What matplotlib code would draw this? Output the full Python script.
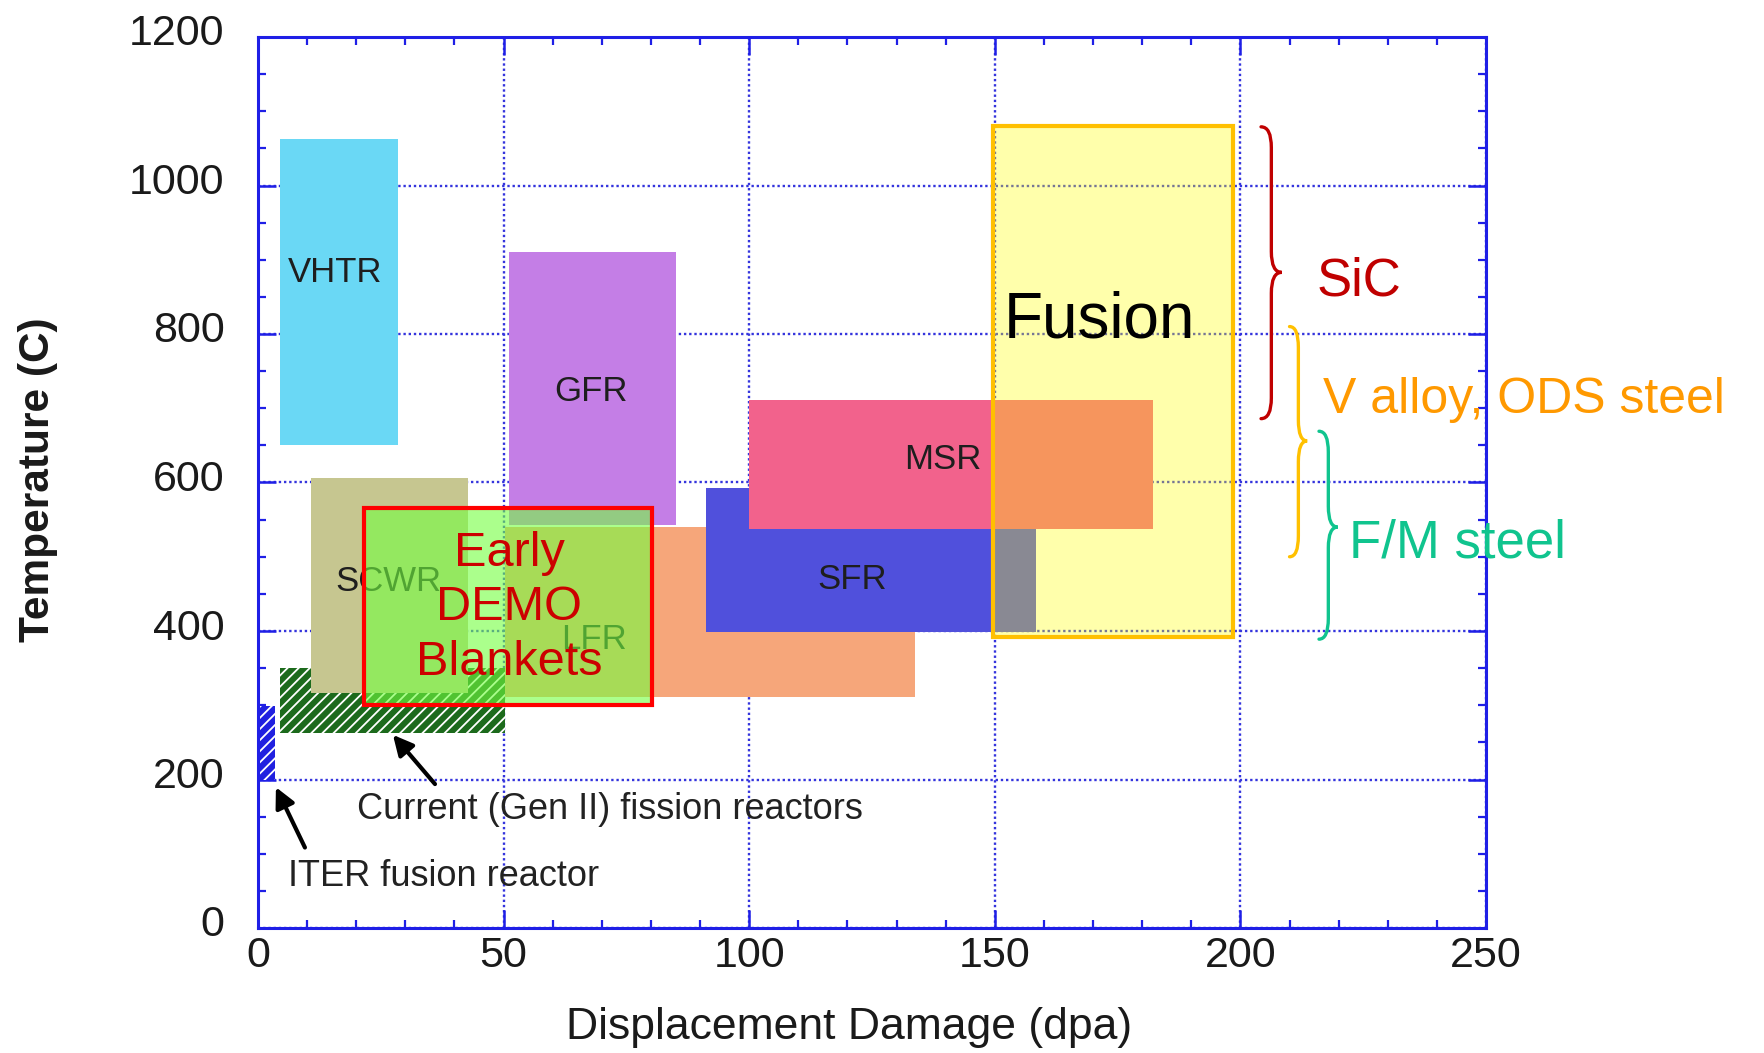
import matplotlib
matplotlib.use("Agg")
import matplotlib.pyplot as plt
from matplotlib.path import Path
from matplotlib.patches import PathPatch
from matplotlib.ticker import MultipleLocator
from matplotlib.transforms import ScaledTranslation
import numpy as np

plt.rcParams['font.family'] = ['Liberation Sans', 'DejaVu Sans']
plt.rcParams['hatch.linewidth'] = 1.3

# ---------------- data ----------------
reactors = ['VHTR', 'GFR', 'SCWR', 'LFR', 'SFR', 'MSR']
dpa_lo = [4.5, 51.0, 10.7, 50.3, 91.2, 100.0]
dpa_hi = [28.5, 85.0, 42.8, 133.8, 158.4, 182.3]
temp_lo = [650, 543, 316, 311, 398, 538]
temp_hi = [1062, 911, 606, 540, 593, 711]
reactor_colors = ['#6AD8F5', '#C47EE6', '#C6C690', '#F6A67A', '#5050DC', '#F2628C']
label_x = [15.7, 67.8, 26.5, 68.5, 121.0, 139.5]
label_y = [883, 723, 467, 389, 470, 631]

# current Gen II fission reactors and ITER (hatched)
genii_dpa = [4.5, 50.3]
genii_temp = [262, 350]
iter_dpa = [0.4, 3.4]
iter_temp = [200, 299]

# Fusion window
fusion_dpa = [149.6, 198.5]
fusion_temp = [392, 1080]
fusion_label_xy = [171.4, 818]

# Early DEMO blankets window
demo_dpa = [21.6, 80.2]
demo_temp = [300, 566]
demo_label_xy = [51.1, 431]

# material braces (right side, outside the axes)
materials = ['SiC', 'V alloy, ODS steel', 'F/M steel']
mat_colors = ['#C00000', '#FF9900', '#10C48E']
brace_colors = ['#C00000', '#FFC000', '#10C48E']
brace_x0 = [204.2, 210.0, 216.0]
brace_x1 = [208.4, 213.6, 219.8]
brace_top = [1079, 810, 669]
brace_bot = [686, 500, 389]
brace_tip = [883, 656, 540]
mat_text_x = [215.6, 216.8, 222.1]
mat_text_y = [871, 711, 518]
mat_font = [38, 36, 38]

x_ticks = [0, 50, 100, 150, 200, 250]
y_ticks = [0, 200, 400, 600, 800, 1000, 1200]

# ---------------- figure ----------------
W, H = 1765, 1053
fig = plt.figure(figsize=(W / 100, H / 100), dpi=100)
ax = fig.add_axes([258 / W, 1 - 928 / H, 1228 / W, 891 / H])
ax.set_xlim(0, 250)
ax.set_ylim(0, 1200)

blue = '#1F1FE6'
ax.set_axisbelow(True)
ax.grid(True, which='major', color='#3434DD', linestyle=(0, (1.0, 1.2)), linewidth=1.7)

# hatched Gen II and ITER
ax.bar(genii_dpa[0], genii_temp[1] - genii_temp[0], width=genii_dpa[1] - genii_dpa[0],
       bottom=genii_temp[0], align='edge', facecolor='#1C6A1C', edgecolor='white',
       hatch='///', linewidth=0, zorder=1)
ax.bar(iter_dpa[0], iter_temp[1] - iter_temp[0], width=iter_dpa[1] - iter_dpa[0],
       bottom=iter_temp[0], align='edge', facecolor='#2020E0', edgecolor='white',
       hatch='///', linewidth=0, zorder=1)

# reactor boxes
order = ['VHTR', 'GFR', 'LFR', 'SCWR', 'SFR', 'MSR']
for k, name in enumerate(order):
    i = reactors.index(name)
    ax.bar(dpa_lo[i], temp_hi[i] - temp_lo[i], width=dpa_hi[i] - dpa_lo[i],
           bottom=temp_lo[i], align='edge', color=reactor_colors[i],
           linewidth=0, zorder=2 + k * 0.1)
for i, name in enumerate(reactors):
    ax.text(label_x[i], label_y[i], name, ha='center', va='center',
            fontsize=25, color='#1E1E1E', zorder=3)

# Fusion window (translucent yellow)
ax.bar(fusion_dpa[0], fusion_temp[1] - fusion_temp[0], width=fusion_dpa[1] - fusion_dpa[0],
       bottom=fusion_temp[0], align='edge', facecolor=(1.0, 1.0, 0.0, 0.33),
       edgecolor='#FFC000', linewidth=3.0, zorder=4)
ax.text(fusion_label_xy[0], fusion_label_xy[1], 'Fusion', ha='center', va='center',
        fontsize=46, color='black', zorder=5)

# Early DEMO window
ax.bar(demo_dpa[0], demo_temp[1] - demo_temp[0], width=demo_dpa[1] - demo_dpa[0],
       bottom=demo_temp[0], align='edge', facecolor=(0.45, 1.0, 0.25, 0.6),
       edgecolor='#FF0000', linewidth=3.0, zorder=6)
ax.text(demo_label_xy[0], demo_label_xy[1], 'Early\nDEMO\nBlankets', ha='center',
        va='center', fontsize=35, color='#CC0000', linespacing=1.28, zorder=7)

# annotations with arrows
ax.annotate('', xy=(27.1, 263), xytext=(36.4, 191),
            arrowprops=dict(arrowstyle='-|>', color='black', lw=3.0, mutation_scale=30),
            zorder=8)
ax.text(20.2, 160, 'Current (Gen II) fission reactors', ha='left', va='center',
        fontsize=26, color='#222222', zorder=8)
ax.annotate('', xy=(3.4, 193), xytext=(9.8, 105),
            arrowprops=dict(arrowstyle='-|>', color='black', lw=3.0, mutation_scale=30),
            zorder=8)
ax.text(6.1, 70, 'ITER fusion reactor', ha='left', va='center',
        fontsize=26, color='#222222', zorder=8)

# braces and material labels
def brace(x0, x1, ytop, ybot, ytip, color):
    xm = (x0 + x1) / 2
    r = 28
    verts = [(x0, ytop), (xm, ytop), (xm, ytop - r),
             (xm, ytip + r),
             (xm, ytip), (x1, ytip),
             (xm, ytip), (xm, ytip - r),
             (xm, ybot + r),
             (xm, ybot), (x0, ybot)]
    codes = [Path.MOVETO, Path.CURVE3, Path.CURVE3,
             Path.LINETO,
             Path.CURVE3, Path.CURVE3,
             Path.CURVE3, Path.CURVE3,
             Path.LINETO,
             Path.CURVE3, Path.CURVE3]
    p = PathPatch(Path(verts, codes), facecolor='none', edgecolor=color,
                  linewidth=2.4, clip_on=False, zorder=9, capstyle='round')
    ax.add_patch(p)

for i, m in enumerate(materials):
    brace(brace_x0[i], brace_x1[i], brace_top[i], brace_bot[i], brace_tip[i], brace_colors[i])
    ax.text(mat_text_x[i], mat_text_y[i], m, ha='left', va='center', fontsize=mat_font[i],
            color=mat_colors[i], clip_on=False, zorder=10)

# axes styling
for s in ax.spines.values():
    s.set_color(blue)
    s.set_linewidth(2.2)
ax.set_xticks(x_ticks)
ax.set_yticks(y_ticks)
ax.xaxis.set_minor_locator(MultipleLocator(10))
ax.yaxis.set_minor_locator(MultipleLocator(50))
ax.tick_params(which='both', direction='in', top=True, right=True, color=blue)
ax.tick_params(which='major', length=13, width=1.8)
ax.tick_params(which='minor', length=6, width=1.6)
ax.tick_params(axis='x', which='major', labelsize=31, pad=6, labelcolor='#1A1A1A')
ax.tick_params(axis='y', which='major', labelsize=31, pad=24, labelcolor='#1A1A1A')
shift = ScaledTranslation(0, 7 / 100, fig.dpi_scale_trans)
for lab in ax.get_yticklabels():
    lab.set_transform(lab.get_transform() + shift)

fig.text(849 / W, 1 - 1027 / H, 'Displacement Damage (dpa)', ha='center', va='center',
         fontsize=32, color='#1A1A1A')
fig.text(38 / W, 1 - 480 / H, 'Temperature (C)', ha='center', va='center',
         rotation=90, fontsize=30.5, fontweight='bold', color='#1A1A1A')

fig.savefig('out.png', dpi=100)
